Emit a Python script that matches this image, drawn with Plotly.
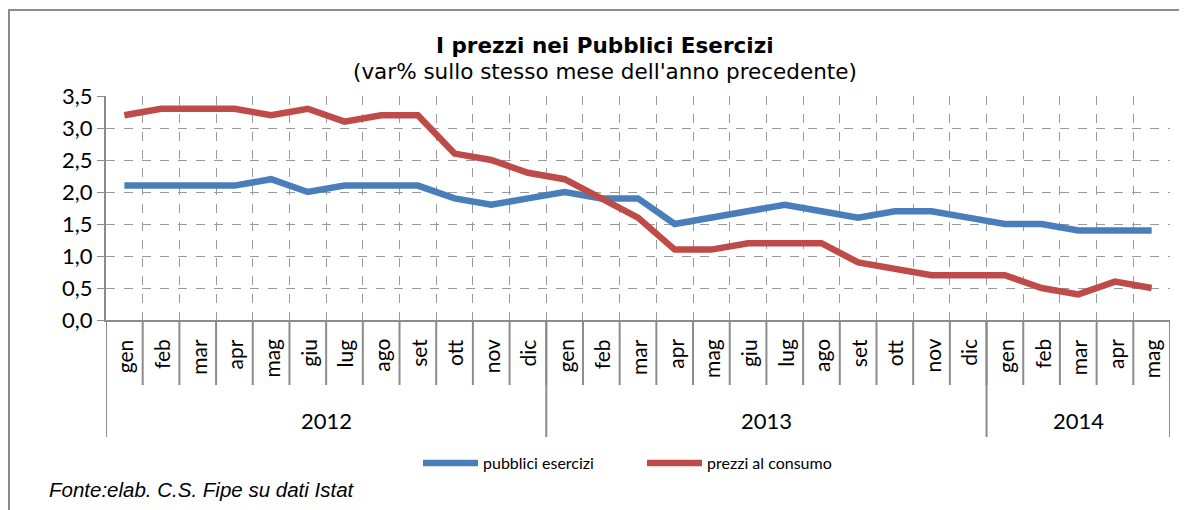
import plotly.graph_objects as go

months = ["gen", "feb", "mar", "apr", "mag", "giu", "lug", "ago", "set", "ott", "nov", "dic",
          "gen", "feb", "mar", "apr", "mag", "giu", "lug", "ago", "set", "ott", "nov", "dic",
          "gen", "feb", "mar", "apr", "mag"]
month_years = [2012] * 12 + [2013] * 12 + [2014] * 5
years = ["2012", "2013", "2014"]

pubblici_esercizi = [2.1, 2.1, 2.1, 2.1, 2.2, 2.0, 2.1, 2.1, 2.1, 1.9, 1.8, 1.9,
                     2.0, 1.9, 1.9, 1.5, 1.6, 1.7, 1.8, 1.7, 1.6, 1.7, 1.7, 1.6,
                     1.5, 1.5, 1.4, 1.4, 1.4]
prezzi_consumo = [3.2, 3.3, 3.3, 3.3, 3.2, 3.3, 3.1, 3.2, 3.2, 2.6, 2.5, 2.3,
                  2.2, 1.9, 1.6, 1.1, 1.1, 1.2, 1.2, 1.2, 0.9, 0.8, 0.7, 0.7,
                  0.7, 0.5, 0.4, 0.6, 0.5]
y_ticks = [0.0, 0.5, 1.0, 1.5, 2.0, 2.5, 3.0, 3.5]

cats = [f"{m} {y}" for m, y in zip(months, month_years)]

BLUE = "#4A7EBB"
RED = "#BE4B48"
GRAY = "#8C8C8C"
FONT = "Lato"

fig = go.Figure()
fig.add_trace(go.Scatter(x=cats, y=pubblici_esercizi, mode="lines", name="pubblici esercizi",
                         line=dict(color=BLUE, width=6.5)))
fig.add_trace(go.Scatter(x=cats, y=prezzi_consumo, mode="lines", name="prezzi al consumo",
                         line=dict(color=RED, width=6.5)))

OFF = 8  # page body margin
W, H = 1187 - OFF, 510 - OFF
L, R, T, B = 106 - OFF, 17, 96 - OFF, 190
ph = H - T - B

def py(p):
    return (H - B - (p - OFF)) / ph

def px(p):
    return (p - OFF - L) / (W - L - R)

annotations = []
shapes = []
for i, m in enumerate(months):
    annotations.append(dict(x=i, y=py(337), xref="x", yref="paper", text=m, textangle=-90,
                            showarrow=False, xanchor="center", yanchor="top",
                            font=dict(family=FONT, size=21, color="#000")))
for i in range(len(months) + 1):
    shapes.append(dict(type="line", xref="x", yref="paper", x0=i - 0.5, x1=i - 0.5,
                       y0=0, y1=py(385), line=dict(color=GRAY, width=2)))
start = 0
bounds = [-0.5]
for yv in years:
    n = sum(1 for v in month_years if str(v) == yv)
    annotations.append(dict(x=start + (n - 1) / 2, y=py(420), xref="x", yref="paper", text=yv,
                            showarrow=False, xanchor="center", yanchor="middle",
                            font=dict(family=FONT, size=22, color="#000")))
    start += n
    bounds.append(start - 0.5)
for b in bounds:
    shapes.append(dict(type="line", xref="x", yref="paper", x0=b, x1=b,
                       y0=0, y1=py(437), line=dict(color=GRAY, width=2)))

annotations.append(dict(x=px(605), y=py(45), xref="paper", yref="paper",
                        text="<b>I prezzi nei Pubblici Esercizi</b>", showarrow=False,
                        xanchor="center", yanchor="middle",
                        font=dict(family="DejaVu Sans", size=21.5, color="#000")))
annotations.append(dict(x=px(605), y=py(71), xref="paper", yref="paper",
                        text="(var% sullo stesso mese dell'anno precedente)", showarrow=False,
                        xanchor="center", yanchor="middle",
                        font=dict(family="DejaVu Sans", size=21.5, color="#000")))
annotations.append(dict(x=px(47), y=py(489), xref="paper", yref="paper",
                        text="<i>Fonte:elab. C.S. Fipe su dati Istat</i>", showarrow=False,
                        xanchor="left", yanchor="middle",
                        font=dict(family="Liberation Sans", size=20.5, color="#000")))

shapes.append(dict(type="rect", xref="paper", yref="paper", x0=px(9), x1=px(1220),
                   y0=py(560), y1=py(10), line=dict(color=GRAY, width=2), layer="below"))

fig.update_layout(
    width=W, height=H,
    margin=dict(l=L, r=R, t=T, b=B),
    paper_bgcolor="white", plot_bgcolor="white",
    showlegend=True,
    legend=dict(orientation="h", x=px(418), y=py(463), xanchor="left", yanchor="middle",
                font=dict(family=FONT, size=16, color="#000"), itemwidth=55,
                entrywidthmode="pixels", entrywidth=154),
    annotations=annotations,
    shapes=shapes,
)
fig.update_xaxes(type="category", range=[-0.5, len(cats) - 0.5], tickson="boundaries",
                 showgrid=True, gridcolor="#9A9A9A", griddash="dash", gridwidth=1,
                 showticklabels=False, ticks="", showline=True, linecolor=GRAY, linewidth=2,
                 mirror=False, zeroline=False)
fig.update_yaxes(range=[0, 3.5], tickvals=y_ticks,
                 ticktext=[f"{v:.1f}".replace(".", ",") for v in y_ticks],
                 showgrid=True, gridcolor="#9A9A9A", griddash="dash", gridwidth=1,
                 ticks="outside", ticklen=7, tickcolor=GRAY, tickwidth=1,
                 showline=True, linecolor=GRAY, linewidth=2, zeroline=False,
                 tickfont=dict(family=FONT, size=22, color="#000"))

fig.write_html("out.html")
